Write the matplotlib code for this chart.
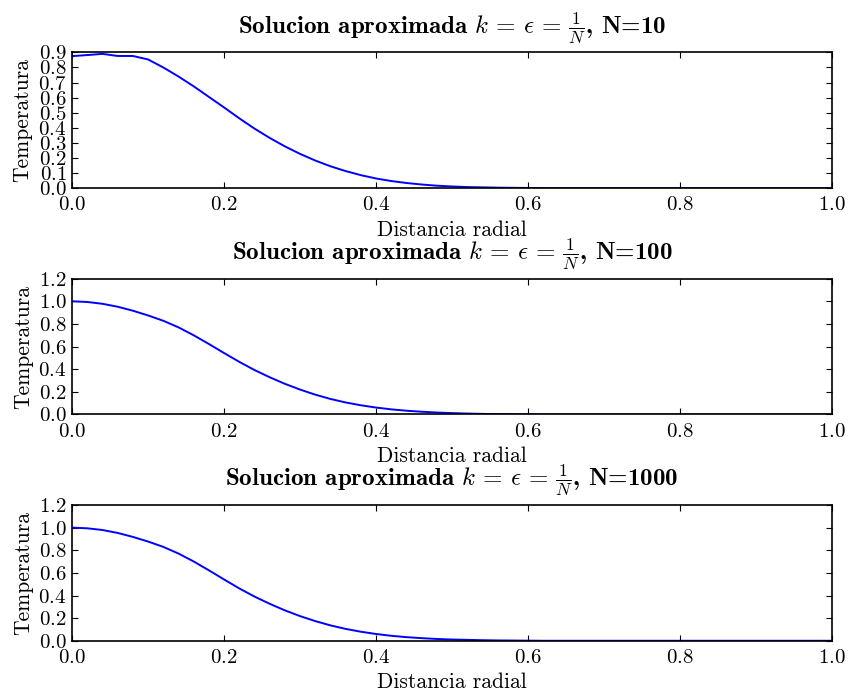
import matplotlib
matplotlib.use("Agg")
import matplotlib.pyplot as plt
import numpy as np

# Radial grid (step 0.02) and temperature profiles for each N
r = [round(0.02 * i, 2) for i in range(51)]

temp_n10 = [0.875, 0.882, 0.890, 0.876, 0.876, 0.853, 0.800, 0.740, 0.675, 0.605,
            0.535, 0.463, 0.395, 0.333, 0.277, 0.227, 0.183, 0.145, 0.113, 0.086,
            0.064, 0.047, 0.034, 0.024, 0.016, 0.011, 0.007, 0.005, 0.003, 0.002,
            0.001, 0.000, 0.000, 0.000, 0.000, 0.000, 0.000, 0.000, 0.000, 0.000,
            0.000, 0.000, 0.000, 0.000, 0.000, 0.000, 0.000, 0.000, 0.000, 0.000,
            0.000]

temp_n100 = [1.000, 0.994, 0.978, 0.952, 0.917, 0.875, 0.828, 0.770, 0.700, 0.623,
             0.543, 0.465, 0.393, 0.329, 0.271, 0.220, 0.175, 0.137, 0.106, 0.081,
             0.061, 0.045, 0.033, 0.024, 0.017, 0.012, 0.008, 0.005, 0.003, 0.002,
             0.001, 0.000, 0.000, 0.000, 0.000, 0.000, 0.000, 0.000, 0.000, 0.000,
             0.000, 0.000, 0.000, 0.000, 0.000, 0.000, 0.000, 0.000, 0.000, 0.000,
             0.000]

temp_n1000 = [1.000, 0.994, 0.979, 0.953, 0.918, 0.877, 0.830, 0.771, 0.701, 0.623,
              0.542, 0.463, 0.391, 0.327, 0.269, 0.218, 0.174, 0.136, 0.105, 0.080,
              0.060, 0.044, 0.032, 0.023, 0.016, 0.011, 0.008, 0.005, 0.003, 0.002,
              0.001, 0.000, 0.000, 0.000, 0.000, 0.000, 0.000, 0.000, 0.000, 0.000,
              0.000, 0.000, 0.000, 0.000, 0.000, 0.000, 0.000, 0.000, 0.000, 0.000,
              0.000]

n_values = [10, 100, 1000]
profiles = [temp_n10, temp_n100, temp_n1000]
y_maxes = [0.9, 1.2, 1.2]
y_steps = [0.1, 0.2, 0.2]
x_ticks = [0.0, 0.2, 0.4, 0.6, 0.8, 1.0]

plt.rcParams.update({
    "font.family": "cmr10",
    "mathtext.fontset": "cm",
    "axes.formatter.use_mathtext": True,
    "axes.unicode_minus": False,
    "font.size": 15,
    "axes.linewidth": 1.2,
    "xtick.direction": "in",
    "ytick.direction": "in",
    "xtick.top": True,
    "ytick.right": True,
    "xtick.major.size": 4,
    "ytick.major.size": 4,
    "xtick.major.pad": 6,
    "ytick.major.pad": 4,
    "xtick.labelsize": 15,
    "ytick.labelsize": 15,
})

fig, axes = plt.subplots(3, 1, figsize=(8.48, 6.98), dpi=100)
fig.subplots_adjust(left=0.085, right=0.981, bottom=0.082, top=0.925, hspace=0.667)

for ax, n, temp, ymax, ystep in zip(axes, n_values, profiles, y_maxes, y_steps):
    ax.plot(r, temp, color="b", linewidth=1.4)
    ax.set_xlim(0.0, 1.0)
    ax.set_ylim(0.0, ymax)
    ax.set_xticks(x_ticks)
    ax.set_yticks(np.arange(0.0, ymax + ystep / 2, ystep))
    ax.set_title(r"Solucion aproximada $k\,=\,\epsilon\,=\,\frac{1}{N}$, N=%d" % n,
                 family="cmb10", fontsize=18, pad=14)
    ax.set_xlabel("Distancia radial", fontsize=15.5)
    ax.set_ylabel("Temperatura", fontsize=15.5, labelpad=4)

fig.savefig("out.png", dpi=100, facecolor="white")
